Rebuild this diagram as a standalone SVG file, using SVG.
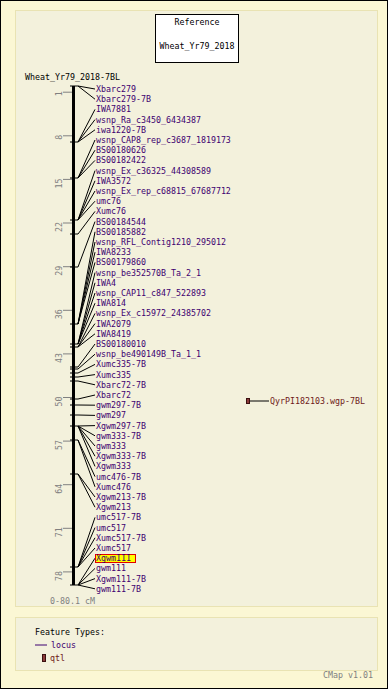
<svg xmlns="http://www.w3.org/2000/svg" width="388" height="689" viewBox="0 0 388 689">
<style>
text{font-family:"DejaVu Sans Mono","Liberation Mono",monospace;font-size:8.3px}
.lbl{fill:#3d0070}
.blk{fill:#000}
.gry{fill:#808080}
.qtl{fill:#6e1818}
.con{stroke:#000;stroke-width:1;fill:none}
.mk{stroke:#000;stroke-width:1}
.tk{stroke:#808080;stroke-width:1}
</style>
<rect x="0.5" y="0.5" width="387" height="688" fill="#fbf7d4" stroke="#000"/>
<rect x="15.5" y="10.5" width="362" height="596" fill="#f3f1dc" stroke="#e9e3b3"/>
<rect x="15.5" y="617.5" width="362" height="53" fill="#f3f1dc" stroke="#e9e3b3"/>
<g id="reference">
<rect x="155.5" y="14.5" width="83" height="48" fill="#fff" stroke="#000"/>
<text class="blk" x="197" y="25" text-anchor="middle">Reference</text>
<text class="blk" x="197" y="49" text-anchor="middle">Wheat_Yr79_2018</text>
</g>
<g id="axis">
<text class="blk" x="25" y="80">Wheat_Yr79_2018-7BL</text>
<line x1="73.5" y1="86" x2="73.5" y2="585" stroke="#000" stroke-width="3"/>
<line class="mk" x1="70" y1="86" x2="78" y2="86"/>
<line class="mk" x1="70" y1="585" x2="78" y2="585"/>
<g id="ticks">
<line class="tk" x1="63" y1="92.2" x2="72" y2="92.2"/><text class="gry" transform="translate(62,91.2) rotate(-90)" text-anchor="end">1</text>
<line class="tk" x1="63" y1="135.8" x2="72" y2="135.8"/><text class="gry" transform="translate(62,134.8) rotate(-90)" text-anchor="end">8</text>
<line class="tk" x1="63" y1="179.4" x2="72" y2="179.4"/><text class="gry" transform="translate(62,178.4) rotate(-90)" text-anchor="end">15</text>
<line class="tk" x1="63" y1="223" x2="72" y2="223"/><text class="gry" transform="translate(62,222) rotate(-90)" text-anchor="end">22</text>
<line class="tk" x1="63" y1="266.7" x2="72" y2="266.7"/><text class="gry" transform="translate(62,265.7) rotate(-90)" text-anchor="end">29</text>
<line class="tk" x1="63" y1="310.3" x2="72" y2="310.3"/><text class="gry" transform="translate(62,309.3) rotate(-90)" text-anchor="end">36</text>
<line class="tk" x1="63" y1="353.9" x2="72" y2="353.9"/><text class="gry" transform="translate(62,352.9) rotate(-90)" text-anchor="end">43</text>
<line class="tk" x1="63" y1="397.5" x2="72" y2="397.5"/><text class="gry" transform="translate(62,396.5) rotate(-90)" text-anchor="end">50</text>
<line class="tk" x1="63" y1="441.1" x2="72" y2="441.1"/><text class="gry" transform="translate(62,440.1) rotate(-90)" text-anchor="end">57</text>
<line class="tk" x1="63" y1="484.7" x2="72" y2="484.7"/><text class="gry" transform="translate(62,483.7) rotate(-90)" text-anchor="end">64</text>
<line class="tk" x1="63" y1="528.3" x2="72" y2="528.3"/><text class="gry" transform="translate(62,527.3) rotate(-90)" text-anchor="end">71</text>
<line class="tk" x1="63" y1="571.9" x2="72" y2="571.9"/><text class="gry" transform="translate(62,570.9) rotate(-90)" text-anchor="end">78</text>
</g>
<g id="marks">
<line class="mk" x1="70" y1="142" x2="78" y2="142"/>
<line class="mk" x1="70" y1="178" x2="78" y2="178"/>
<line class="mk" x1="70" y1="220" x2="78" y2="220"/>
<line class="mk" x1="70" y1="234" x2="78" y2="234"/>
<line class="mk" x1="70" y1="267" x2="78" y2="267"/>
<line class="mk" x1="70" y1="324" x2="78" y2="324"/>
<line class="mk" x1="70" y1="344" x2="78" y2="344"/>
<line class="mk" x1="70" y1="347" x2="78" y2="347"/>
<line class="mk" x1="70" y1="367" x2="78" y2="367"/>
<line class="mk" x1="70" y1="369" x2="78" y2="369"/>
<line class="mk" x1="70" y1="373" x2="78" y2="373"/>
<line class="mk" x1="70" y1="377" x2="78" y2="377"/>
<line class="mk" x1="70" y1="381" x2="78" y2="381"/>
<line class="mk" x1="70" y1="399" x2="78" y2="399"/>
<line class="mk" x1="70" y1="405" x2="78" y2="405"/>
<line class="mk" x1="70" y1="415" x2="78" y2="415"/>
<line class="mk" x1="70" y1="426" x2="78" y2="426"/>
<line class="mk" x1="70" y1="440" x2="78" y2="440"/>
<line class="mk" x1="70" y1="474" x2="78" y2="474"/>
<line class="mk" x1="70" y1="567" x2="78" y2="567"/>
</g>
<text class="gry" x="50" y="604">0-80.1 cM</text>
</g>
<g id="connectors">
<line class="con" x1="78" y1="86" x2="95" y2="89"/>
<line class="con" x1="78" y1="86" x2="95" y2="99.2"/>
<line class="con" x1="78" y1="142" x2="95" y2="109.4"/>
<line class="con" x1="78" y1="142" x2="95" y2="119.6"/>
<line class="con" x1="78" y1="142" x2="95" y2="129.8"/>
<line class="con" x1="78" y1="178" x2="95" y2="140"/>
<line class="con" x1="78" y1="178" x2="95" y2="150.2"/>
<line class="con" x1="78" y1="178" x2="95" y2="160.4"/>
<line class="con" x1="78" y1="220" x2="95" y2="170.6"/>
<line class="con" x1="78" y1="220" x2="95" y2="180.8"/>
<line class="con" x1="78" y1="220" x2="95" y2="191"/>
<line class="con" x1="78" y1="220" x2="95" y2="201.2"/>
<line class="con" x1="78" y1="234" x2="95" y2="211.4"/>
<line class="con" x1="78" y1="267" x2="95" y2="221.6"/>
<line class="con" x1="78" y1="324" x2="95" y2="231.8"/>
<line class="con" x1="78" y1="324" x2="95" y2="242"/>
<line class="con" x1="78" y1="324" x2="95" y2="252.2"/>
<line class="con" x1="78" y1="324" x2="95" y2="262.4"/>
<line class="con" x1="78" y1="344" x2="95" y2="272.6"/>
<line class="con" x1="78" y1="344" x2="95" y2="282.8"/>
<line class="con" x1="78" y1="344" x2="95" y2="293"/>
<line class="con" x1="78" y1="344" x2="95" y2="303.2"/>
<line class="con" x1="78" y1="347" x2="95" y2="313.4"/>
<line class="con" x1="78" y1="347" x2="95" y2="323.6"/>
<line class="con" x1="78" y1="347" x2="95" y2="333.8"/>
<line class="con" x1="78" y1="367" x2="95" y2="344"/>
<line class="con" x1="78" y1="369" x2="95" y2="354.2"/>
<line class="con" x1="78" y1="373" x2="95" y2="364.4"/>
<line class="con" x1="78" y1="377" x2="95" y2="374.6"/>
<line class="con" x1="78" y1="381" x2="95" y2="384.8"/>
<line class="con" x1="78" y1="399" x2="95" y2="395"/>
<line class="con" x1="78" y1="405" x2="95" y2="405.2"/>
<line class="con" x1="78" y1="415" x2="95" y2="415.4"/>
<line class="con" x1="78" y1="426" x2="95" y2="425.6"/>
<line class="con" x1="78" y1="426" x2="95" y2="435.8"/>
<line class="con" x1="78" y1="426" x2="95" y2="446"/>
<line class="con" x1="78" y1="426" x2="95" y2="456.2"/>
<line class="con" x1="78" y1="426" x2="95" y2="466.4"/>
<line class="con" x1="78" y1="440" x2="95" y2="476.6"/>
<line class="con" x1="78" y1="440" x2="95" y2="486.8"/>
<line class="con" x1="78" y1="474" x2="95" y2="497"/>
<line class="con" x1="78" y1="474" x2="95" y2="507.2"/>
<line class="con" x1="78" y1="567" x2="95" y2="517.4"/>
<line class="con" x1="78" y1="567" x2="95" y2="527.6"/>
<line class="con" x1="78" y1="567" x2="95" y2="537.8"/>
<line class="con" x1="78" y1="567" x2="95" y2="548"/>
<line class="con" x1="78" y1="585" x2="95" y2="558.2"/>
<line class="con" x1="78" y1="585" x2="95" y2="568.4"/>
<line class="con" x1="78" y1="585" x2="95" y2="578.6"/>
<line class="con" x1="78" y1="585" x2="95" y2="588.8"/>
<line class="con" x1="250" y1="401" x2="269" y2="401"/>
</g>
<g id="m0"><text class="lbl" x="96" y="92">Xbarc279</text></g>
<g id="m1"><text class="lbl" x="96" y="102.2">Xbarc279-7B</text></g>
<g id="m2"><text class="lbl" x="96" y="112.4">IWA7881</text></g>
<g id="m3"><text class="lbl" x="96" y="122.6">wsnp_Ra_c3450_6434387</text></g>
<g id="m4"><text class="lbl" x="96" y="132.8">iwa1220-7B</text></g>
<g id="m5"><text class="lbl" x="96" y="143">wsnp_CAP8_rep_c3687_1819173</text></g>
<g id="m6"><text class="lbl" x="96" y="153.2">BS00180626</text></g>
<g id="m7"><text class="lbl" x="96" y="163.4">BS00182422</text></g>
<g id="m8"><text class="lbl" x="96" y="173.6">wsnp_Ex_c36325_44308589</text></g>
<g id="m9"><text class="lbl" x="96" y="183.8">IWA3572</text></g>
<g id="m10"><text class="lbl" x="96" y="194">wsnp_Ex_rep_c68815_67687712</text></g>
<g id="m11"><text class="lbl" x="96" y="204.2">umc76</text></g>
<g id="m12"><text class="lbl" x="96" y="214.4">Xumc76</text></g>
<g id="m13"><text class="lbl" x="96" y="224.6">BS00184544</text></g>
<g id="m14"><text class="lbl" x="96" y="234.8">BS00185882</text></g>
<g id="m15"><text class="lbl" x="96" y="245">wsnp_RFL_Contig1210_295012</text></g>
<g id="m16"><text class="lbl" x="96" y="255.2">IWA8233</text></g>
<g id="m17"><text class="lbl" x="96" y="265.4">BS00179860</text></g>
<g id="m18"><text class="lbl" x="96" y="275.6">wsnp_be352570B_Ta_2_1</text></g>
<g id="m19"><text class="lbl" x="96" y="285.8">IWA4</text></g>
<g id="m20"><text class="lbl" x="96" y="296">wsnp_CAP11_c847_522893</text></g>
<g id="m21"><text class="lbl" x="96" y="306.2">IWA814</text></g>
<g id="m22"><text class="lbl" x="96" y="316.4">wsnp_Ex_c15972_24385702</text></g>
<g id="m23"><text class="lbl" x="96" y="326.6">IWA2079</text></g>
<g id="m24"><text class="lbl" x="96" y="336.8">IWA8419</text></g>
<g id="m25"><text class="lbl" x="96" y="347">BS00180010</text></g>
<g id="m26"><text class="lbl" x="96" y="357.2">wsnp_be490149B_Ta_1_1</text></g>
<g id="m27"><text class="lbl" x="96" y="367.4">Xumc335-7B</text></g>
<g id="m28"><text class="lbl" x="96" y="377.6">Xumc335</text></g>
<g id="m29"><text class="lbl" x="96" y="387.8">Xbarc72-7B</text></g>
<g id="m30"><text class="lbl" x="96" y="398">Xbarc72</text></g>
<g id="m31"><text class="lbl" x="96" y="408.2">gwm297-7B</text></g>
<g id="m32"><text class="lbl" x="96" y="418.4">gwm297</text></g>
<g id="m33"><text class="lbl" x="96" y="428.6">Xgwm297-7B</text></g>
<g id="m34"><text class="lbl" x="96" y="438.8">gwm333-7B</text></g>
<g id="m35"><text class="lbl" x="96" y="449">gwm333</text></g>
<g id="m36"><text class="lbl" x="96" y="459.2">Xgwm333-7B</text></g>
<g id="m37"><text class="lbl" x="96" y="469.4">Xgwm333</text></g>
<g id="m38"><text class="lbl" x="96" y="479.6">umc476-7B</text></g>
<g id="m39"><text class="lbl" x="96" y="489.8">Xumc476</text></g>
<g id="m40"><text class="lbl" x="96" y="500">Xgwm213-7B</text></g>
<g id="m41"><text class="lbl" x="96" y="510.2">Xgwm213</text></g>
<g id="m42"><text class="lbl" x="96" y="520.4">umc517-7B</text></g>
<g id="m43"><text class="lbl" x="96" y="530.6">umc517</text></g>
<g id="m44"><text class="lbl" x="96" y="540.8">Xumc517-7B</text></g>
<g id="m45"><text class="lbl" x="96" y="551">Xumc517</text></g>
<g id="m46"><rect x="95.5" y="554.5" width="40" height="8" fill="#ffff00" stroke="#e00000"/><text class="lbl" x="96" y="561.2">Xgwm111</text></g>
<g id="m47"><text class="lbl" x="96" y="571.4">gwm111</text></g>
<g id="m48"><text class="lbl" x="96" y="581.6">Xgwm111-7B</text></g>
<g id="m49"><text class="lbl" x="96" y="591.8">gwm111-7B</text></g>
<g id="qtl1">
<rect x="246.5" y="398.5" width="3" height="5" fill="#8b3a3a" stroke="#3a1010"/>
<text class="qtl" x="270" y="404">QyrPI182103.wgp-7BL</text>
</g>
<g id="legend">
<text class="blk" x="35" y="634.5">Feature Types:</text>
<line x1="35" y1="645" x2="47" y2="645" stroke="#3d0070"/>
<text class="lbl" x="51" y="648">locus</text>
<rect x="42.5" y="654.5" width="3" height="7" fill="#8b3a3a" stroke="#3a1010"/>
<text class="qtl" x="50" y="661">qtl</text>
</g>
<text class="gry" x="323" y="678">CMap v1.01</text>
</svg>
